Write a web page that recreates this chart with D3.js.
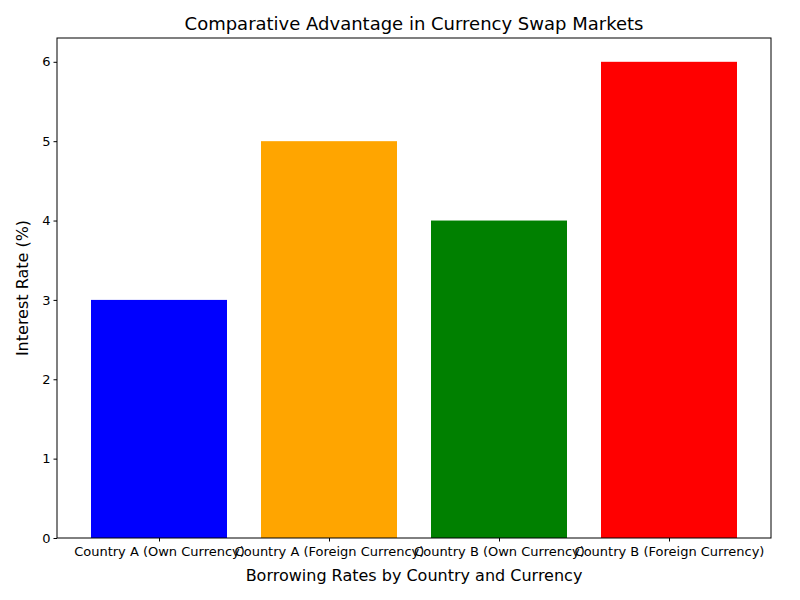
<!DOCTYPE html>
<html><head><meta charset="utf-8">
<script src="https://cdn.jsdelivr.net/npm/d3@7"></script>
<style>body{margin:0;background:#fff}text{font-family:"DejaVu Sans",sans-serif}</style>
</head><body><svg id="c" width="800" height="600"></svg>
<script>
const categories=["Country A (Own Currency)","Country A (Foreign Currency)","Country B (Own Currency)","Country B (Foreign Currency)"];
const values=[3,5,4,6];
const colors=["blue","orange","green","red"];
const yTicks=[0,1,2,3,4,5,6];
const svg=d3.select("#c");
const L=57,R=771,T=38,B=538;
const x=d3.scaleLinear().domain([-0.6,3.6]).range([L,R]);
const y=d3.scaleLinear().domain([0,6.3]).range([B,T]);
svg.selectAll("rect.bar").data(values).join("rect")
 .attr("x",(d,i)=>x(i-0.4)).attr("width",(d,i)=>x(i+0.4)-x(i-0.4))
 .attr("y",d=>y(d)).attr("height",d=>B-y(d)).attr("fill",(d,i)=>colors[i]);
const ga=svg.append("g").attr("transform",`translate(0,${B})`)
 .call(d3.axisBottom(x).tickValues([0,1,2,3]).tickFormat(i=>categories[i]).tickSizeOuter(0).tickSize(3.5));
const gl=svg.append("g").attr("transform",`translate(${L},0)`)
 .call(d3.axisLeft(y).tickValues(yTicks).tickFormat(d3.format("d")).tickSizeOuter(0).tickSize(3.5));
[ga,gl].forEach(g=>{g.select(".domain").remove();g.selectAll("text").attr("font-size",13).attr("fill","#000");g.selectAll("line").attr("stroke","#000");});
ga.selectAll("text").attr("dy","0.9em");
svg.append("rect").attr("x",L).attr("y",T).attr("width",R-L).attr("height",B-T).attr("fill","none").attr("stroke","#000").attr("stroke-width",1);
svg.append("text").attr("x",(L+R)/2).attr("y",30).attr("text-anchor","middle").attr("font-size",18).text("Comparative Advantage in Currency Swap Markets");
svg.append("text").attr("x",(L+R)/2).attr("y",581).attr("text-anchor","middle").attr("font-size",16).text("Borrowing Rates by Country and Currency");
svg.append("text").attr("transform",`translate(28,${(T+B)/2}) rotate(-90)`).attr("text-anchor","middle").attr("font-size",16).text("Interest Rate (%)");
</script></body></html>
